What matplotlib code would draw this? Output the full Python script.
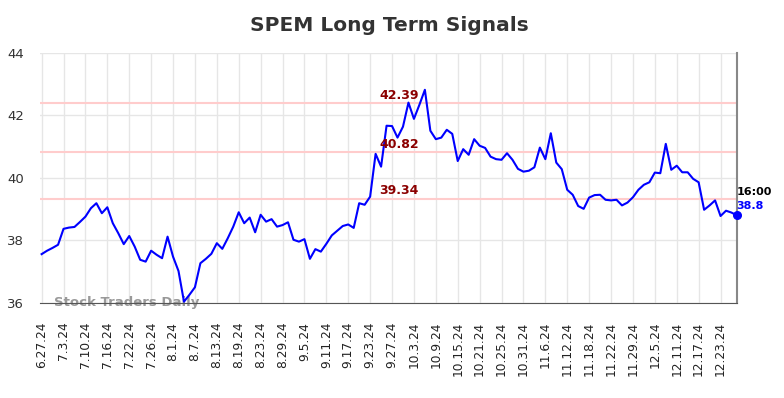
import numpy as np
import matplotlib.pyplot as plt

# --- data ---
tick_labels = ["6.27.24", "7.3.24", "7.10.24", "7.16.24", "7.22.24", "7.26.24",
               "8.1.24", "8.7.24", "8.13.24", "8.19.24", "8.23.24", "8.29.24",
               "9.5.24", "9.11.24", "9.17.24", "9.23.24", "9.27.24", "10.3.24",
               "10.9.24", "10.15.24", "10.21.24", "10.25.24", "10.31.24", "11.6.24",
               "11.12.24", "11.18.24", "11.22.24", "11.29.24", "12.5.24", "12.11.24",
               "12.17.24", "12.23.24"]

prices = [37.56, 37.67, 37.76, 37.86, 38.37, 38.41, 38.43, 38.59, 38.76, 39.03,
          39.19, 38.87, 39.06, 38.55, 38.23, 37.88, 38.14, 37.80, 37.38, 37.32,
          37.67, 37.54, 37.43, 38.12, 37.48, 37.02, 36.04, 36.26, 36.50, 37.27,
          37.41, 37.57, 37.91, 37.73, 38.07, 38.44, 38.90, 38.55, 38.73, 38.26,
          38.82, 38.60, 38.68, 38.44, 38.49, 38.58, 38.02, 37.96, 38.04, 37.41,
          37.72, 37.64, 37.89, 38.16, 38.31, 38.46, 38.51, 38.40, 39.19, 39.14,
          39.40, 40.77, 40.36, 41.67, 41.66, 41.29, 41.64, 42.41, 41.89, 42.34,
          42.82, 41.51, 41.24, 41.29, 41.54, 41.41, 40.54, 40.92, 40.74, 41.24,
          41.03, 40.96, 40.68, 40.60, 40.58, 40.79, 40.58, 40.29, 40.20, 40.23,
          40.34, 40.97, 40.60, 41.43, 40.49, 40.28, 39.62, 39.46, 39.10, 39.01,
          39.37, 39.45, 39.46, 39.30, 39.28, 39.30, 39.12, 39.21, 39.38, 39.62,
          39.78, 39.86, 40.17, 40.15, 41.09, 40.26, 40.39, 40.18, 40.18, 39.97,
          39.86, 38.98, 39.12, 39.28, 38.78, 38.95, 38.89, 38.80]

signal_levels = [42.39, 40.82, 39.34]
last_time = "16:00"

x = np.arange(len(prices))
tick_pos = x[::4][:len(tick_labels)]

fig = plt.figure(figsize=(7.84, 3.98), dpi=100)
ax = fig.add_axes([0.051, 0.239, 0.889, 0.628])

ax.plot(x, prices, color='blue', linewidth=1.5, zorder=3)
ax.scatter([x[-1]], [prices[-1]], color='blue', s=30, zorder=4, clip_on=False)

for lvl in signal_levels:
    ax.axhline(lvl, color='#ffcccc', linewidth=1.5, zorder=2)
    ax.text(65.3, lvl + 0.04, f"{lvl:.2f}", color='#8b0000', fontsize=9,
            fontweight='bold', ha='center', va='bottom', zorder=5)

ax.text(x[-1] - 0.1, prices[-1] + 0.75, last_time, color='black', fontsize=8,
        fontweight='bold', ha='left', va='center')
ax.text(x[-1] - 0.1, prices[-1] + 0.30, f"{prices[-1]:.1f}", color='blue',
        fontsize=8, fontweight='bold', ha='left', va='center')

ax.text(2.3, 36.0, "Stock Traders Daily", color='#999999', fontsize=9.5,
        fontweight='bold', ha='left', va='center', zorder=1)

ax.set_xlim(-0.3, len(prices) - 1)
ax.set_ylim(36, 44)
ax.set_yticks([36, 38, 40, 42, 44])
ax.set_xticks(tick_pos)
ax.set_xticklabels(tick_labels, rotation=90, fontsize=8.8)
ax.tick_params(axis='y', labelsize=9.5, length=0, pad=11.5, colors='#333333')
ax.tick_params(axis='x', length=0, pad=13.5, colors='#222222')

ax.grid(True, color='#e6e6e6', linewidth=1)
ax.set_axisbelow(True)
for side in ['top', 'left']:
    ax.spines[side].set_visible(False)
ax.spines['bottom'].set_color('#555555')
ax.spines['right'].set_color('#888888')
ax.spines['right'].set_linewidth(1.5)

fig.suptitle("SPEM Long Term Signals", x=0.497, y=0.935, va='center',
             fontsize=14.5, fontweight='bold', color='#333333')

fig.savefig("out.png", dpi=100)
